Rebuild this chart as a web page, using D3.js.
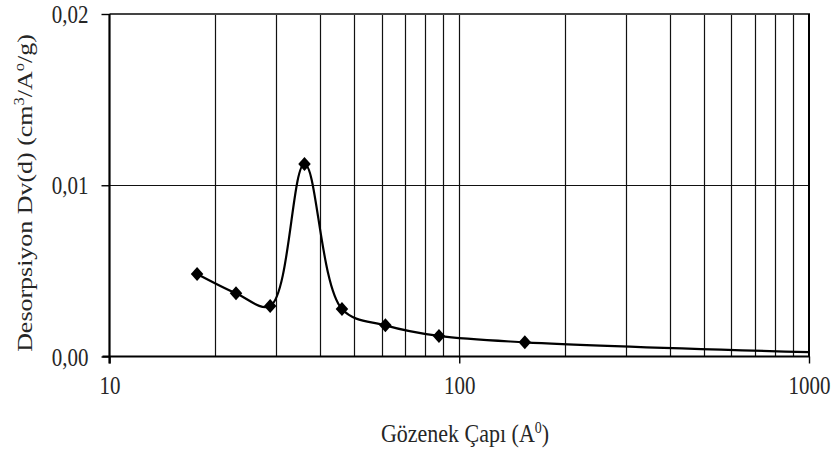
<!DOCTYPE html>
<html>
<head>
<meta charset="utf-8">
<script src="https://cdn.jsdelivr.net/npm/d3@7/dist/d3.min.js"></script>
<style>
  html, body { margin: 0; padding: 0; background: #fff; }
  svg { display: block; }
  text { font-family: "Liberation Serif", "Times New Roman", serif; fill: #262626; }
</style>
</head>
<body>
<svg id="chart" width="833" height="450"></svg>
<script>
// Pore diameter (Å) and desorption volume Dv(d) (cm³/Å/g)
const poreDiameter = [17.8, 23.0, 28.8, 36.1, 46.2, 61.5, 87.5, 154, 1000];
const desorption   = [0.00482, 0.00369, 0.00295, 0.01124, 0.00277, 0.00182, 0.00120, 0.00083, 0.00025];
// Measured points carry a marker; the last entry only closes the curve at the axis end
const markedCount = 8;

const xTicks = [10, 100, 1000];
const xTickLabels = ["10", "100", "1000"];
const yTicks = [0, 0.01, 0.02];
const yTickLabels = ["0,00", "0,01", "0,02"];

const svg = d3.select("#chart");
const plotLeft = 109.5, plotRight = 809, plotTop = 14, plotBottom = 356.5;
const fontPx = 21;      // label font size
const stretchY = 1.18;  // lettering is slightly taller than wide

const x = d3.scaleLog().domain([10, 1000]).range([plotLeft, plotRight]);
const y = d3.scaleLinear().domain([0, 0.02]).range([plotBottom, plotTop]);

// Vertical grid: every integer step of each decade
const gridX = [];
for (let d = 10; d < 1000; d *= 10) {
  for (let k = 2; k <= 10; k++) gridX.push(d * k);
}
svg.append("g")
  .selectAll("line")
  .data(gridX.filter(v => v < 1000))
  .join("line")
  .attr("x1", d => Math.round(x(d)) + 0.5)
  .attr("x2", d => Math.round(x(d)) + 0.5)
  .attr("y1", plotTop)
  .attr("y2", plotBottom)
  .attr("stroke", "#111")
  .attr("stroke-width", 1.2);

// Horizontal grid
svg.append("g")
  .selectAll("line")
  .data(yTicks.filter(v => v > 0 && v < 0.02))
  .join("line")
  .attr("x1", plotLeft)
  .attr("x2", plotRight)
  .attr("y1", d => Math.round(y(d)) + 0.5)
  .attr("y2", d => Math.round(y(d)) + 0.5)
  .attr("stroke", "#111")
  .attr("stroke-width", 1.2);

// Frame: top and right edges
svg.append("line").attr("x1", plotLeft).attr("x2", plotRight + 1).attr("y1", plotTop).attr("y2", plotTop)
  .attr("stroke", "#444").attr("stroke-width", 2);
svg.append("line").attr("x1", plotRight).attr("x2", plotRight).attr("y1", plotTop).attr("y2", plotBottom)
  .attr("stroke", "#000").attr("stroke-width", 2);

// Axes
const xAxis = d3.axisBottom(x)
  .tickValues(xTicks)
  .tickFormat((d, i) => xTickLabels[i])
  .tickSize(7)
  .tickPadding(10);
const gx = svg.append("g").attr("transform", `translate(0,${plotBottom})`).call(xAxis);
gx.select(".domain").attr("stroke", "#000").attr("stroke-width", 2.2)
  .attr("d", `M${plotLeft - 7},0H${plotRight + 1}`);
gx.selectAll(".tick line").attr("stroke", "#000").attr("stroke-width", 1.4);
gx.selectAll(".tick text")
  .style("font-family", "'Liberation Serif', serif")
  .style("font-size", fontPx + "px")
  .attr("fill", "#262626")
  .attr("dy", null)
  .attr("y", 0)
  .attr("transform", `translate(0,37) scale(1,${stretchY})`);

const yAxis = d3.axisLeft(y)
  .tickValues(yTicks)
  .tickFormat((d, i) => yTickLabels[i])
  .tickSize(8)
  .tickPadding(12);
const gy = svg.append("g").attr("transform", `translate(${plotLeft},0)`).call(yAxis);
gy.select(".domain").attr("stroke", "#000").attr("stroke-width", 2.2)
  .attr("d", `M0,${plotTop}V${plotBottom + 7}`);
gy.selectAll(".tick line").attr("stroke", "#000").attr("stroke-width", 1.4);
gy.selectAll(".tick text")
  .style("font-family", "'Liberation Serif', serif")
  .style("font-size", fontPx + "px")
  .attr("fill", "#262626")
  .attr("dy", null)
  .attr("x", 0)
  .attr("transform", `translate(-21,8.5) scale(1,${stretchY})`);

// Smoothed curve through the points
const pts = poreDiameter.map((d, i) => [x(d), y(desorption[i])]);
const line = d3.line().curve(d3.curveCatmullRom.alpha(0.5));
svg.append("path")
  .attr("d", line(pts))
  .attr("fill", "none")
  .attr("stroke", "#000")
  .attr("stroke-width", 2.2);

// Diamond markers
const diamond = d3.symbol().type(d3.symbolDiamond2).size(100);
svg.append("g")
  .selectAll("path")
  .data(pts.slice(0, markedCount))
  .join("path")
  .attr("transform", d => `translate(${d[0]},${d[1]}) scale(1,1.12)`)
  .attr("d", diamond)
  .attr("fill", "#000");

// Axis titles
const xt = svg.append("text")
  .attr("transform", `translate(465,442) scale(1,${stretchY})`)
  .attr("text-anchor", "middle")
  .style("font-size", "22px");
xt.append("tspan").text("Gözenek Çapı (A");
xt.append("tspan").attr("dy", -8).style("font-size", "14px").text("0");
xt.append("tspan").attr("dy", 8).text(")");

const yt = svg.append("text")
  .attr("transform", `translate(32,193) rotate(-90) scale(${stretchY},1)`)
  .attr("text-anchor", "middle")
  .style("font-size", "22px");
yt.append("tspan").text("Desorpsiyon Dv(d) (cm");
yt.append("tspan").attr("dy", -8).style("font-size", "14px").text("3");
yt.append("tspan").attr("dy", 8).text("/A");
yt.append("tspan").attr("dy", -8).style("font-size", "14px").text("o");
yt.append("tspan").attr("dy", 8).text("/g)");
</script>
</body>
</html>
